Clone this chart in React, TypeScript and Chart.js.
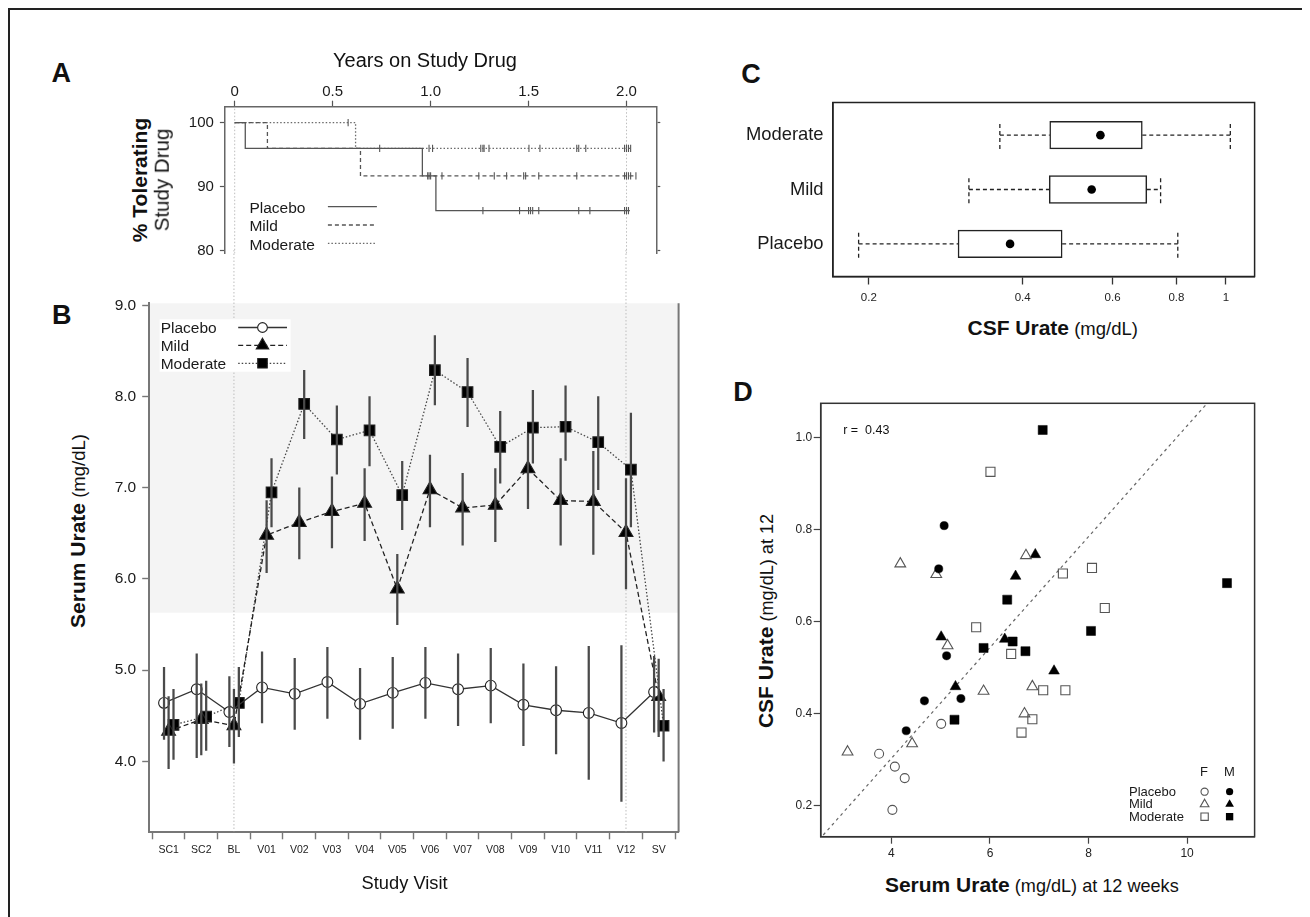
import React, { useEffect, useRef } from 'react';
import { Chart, registerables } from 'chart.js';

Chart.register(...registerables);

const FONT = '"Liberation Sans", Arial, Helvetica, sans-serif';
Chart.defaults.font.family = FONT;
Chart.defaults.color = '#1a1a1a';

// ================= Panel A : tolerability (Kaplan-Meier) =================
const aXTickValues = [0, 0.5, 1, 1.5, 2];
const aXTickLabels = ['0', '0.5', '1.0', '1.5', '2.0'];
const aYTickValues = [80, 90, 100];
const aYTickLabels = ['80', '90', '100'];
const kmPlacebo = [[0, 100], [0.054, 96], [0.958, 91.7], [1.027, 86.3], [2.017, 86.3]];
const kmMild = [[0, 100], [0.167, 96], [0.642, 91.7], [2.048, 91.7]];
const kmModerate = [[0, 100], [0.617, 96], [2.023, 96]];
const censorPlacebo = [[0.74, 96], [1.267, 86.3], [1.454, 86.3], [1.5, 86.3], [1.51, 86.3], [1.521, 86.3], [1.552, 86.3], [1.756, 86.3], [1.813, 86.3], [1.99, 86.3], [2.0, 86.3], [2.01, 86.3]];
const censorMild = [[0.985, 91.7], [0.992, 91.7], [1.0, 91.7], [1.058, 91.7], [1.246, 91.7], [1.325, 91.7], [1.388, 91.7], [1.475, 91.7], [1.485, 91.7], [1.552, 91.7], [1.746, 91.7], [1.99, 91.7], [2.0, 91.7], [2.01, 91.7], [2.021, 91.7], [2.048, 91.7]];
const censorModerate = [[0.579, 100], [0.992, 96], [1.01, 96], [1.256, 96], [1.267, 96], [1.273, 96], [1.298, 96], [1.502, 96], [1.558, 96], [1.746, 96], [1.756, 96], [1.792, 96], [1.99, 96], [2.0, 96], [2.01, 96], [2.021, 96]];
const aXRange = [-0.05, 2.152];
const aYRange = [79.64, 102.49];
const alignedYears = [0, 2];

// ================= Panel B : serum urate by visit =================
const visits = ['SC1', 'SC2', 'BL', 'V01', 'V02', 'V03', 'V04', 'V05', 'V06', 'V07', 'V08', 'V09', 'V10', 'V11', 'V12', 'SV'];
const bYTickValues = [4, 5, 6, 7, 8, 9];
const bYTickLabels = ['4.0', '5.0', '6.0', '7.0', '8.0', '9.0'];
const placeboMean = [4.64, 4.79, 4.54, 4.81, 4.74, 4.87, 4.63, 4.75, 4.86, 4.79, 4.83, 4.62, 4.56, 4.53, 4.42, 4.76];
const placeboLow = [4.24, 4.04, 4.16, 4.42, 4.35, 4.47, 4.24, 4.36, 4.47, 4.39, 4.42, 4.17, 4.08, 3.80, 3.56, 4.32];
const placeboHigh = [5.03, 5.18, 4.93, 5.20, 5.13, 5.25, 5.02, 5.14, 5.25, 5.18, 5.24, 5.07, 5.04, 5.26, 5.27, 5.15];
const mildMean = [4.33, 4.46, 4.39, 6.48, 6.62, 6.74, 6.83, 5.89, 6.98, 6.78, 6.81, 7.21, 6.86, 6.85, 6.51, 4.71];
const mildLow = [3.92, 4.07, 3.98, 6.07, 6.22, 6.34, 6.42, 5.50, 6.57, 6.37, 6.41, 6.77, 6.37, 6.27, 5.89, 4.27];
const mildHigh = [4.71, 4.85, 4.79, 6.86, 7.00, 7.12, 7.21, 6.27, 7.36, 7.16, 7.21, 7.60, 7.32, 7.40, 7.10, 5.12];
const moderateMean = [4.40, 4.49, 4.64, 6.95, 7.92, 7.53, 7.63, 6.92, 8.29, 8.05, 7.45, 7.66, 7.67, 7.50, 7.20, 4.39];
const moderateLow = [4.02, 4.12, 4.27, 6.57, 7.54, 7.15, 7.24, 6.54, 7.91, 7.67, 7.05, 7.27, 7.30, 6.98, 6.57, 4.00];
const moderateHigh = [4.79, 4.88, 5.03, 7.32, 8.29, 7.90, 8.00, 7.29, 8.67, 8.42, 7.84, 8.07, 8.12, 8.00, 7.82, 4.79];
const bXRange = [-0.603, 15.61];
const bYRange = [3.221, 9.024];
const shadedUrate = [5.63, 9.024];
const alignedVisits = ['BL', 'V12'];

// ================= Panel C : CSF urate box plots =================
const csfGroups = ['Placebo', 'Mild', 'Moderate'];
const csfRows = [1, 2, 3];
const csfMin = [0.191, 0.314, 0.361];
const csfQ1 = [0.299, 0.451, 0.452];
const csfMedian = [0.378, 0.546, 0.568];
const csfQ3 = [0.478, 0.700, 0.686];
const csfMax = [0.805, 0.745, 1.020];
const cXTickValues = [0.2, 0.4, 0.6, 0.8, 1];
const cXTickLabels = ['0.2', '0.4', '0.6', '0.8', '1'];
const cXRange = [0.1701, 1.138];
const cYRange = [0.4, 3.6];

// ================= Panel D : CSF vs serum urate =================
const dPlaceboF = [[5.01, 0.378], [3.75, 0.313], [4.07, 0.285], [4.27, 0.260], [4.02, 0.191]];
const dPlaceboM = [[5.07, 0.809], [4.96, 0.715], [5.12, 0.526], [4.67, 0.428], [5.41, 0.433], [4.30, 0.363]];
const dMildF = [[4.18, 0.726], [4.91, 0.703], [6.73, 0.744], [5.14, 0.548], [5.87, 0.449], [6.86, 0.459], [6.70, 0.400], [4.42, 0.335], [3.11, 0.317]];
const dMildM = [[6.92, 0.746], [6.52, 0.699], [5.01, 0.567], [6.30, 0.562], [7.30, 0.493], [5.30, 0.459]];
const dModerateF = [[6.01, 0.926], [7.48, 0.705], [8.07, 0.717], [8.33, 0.630], [5.72, 0.588], [6.43, 0.530], [7.08, 0.451], [7.53, 0.451], [6.86, 0.388], [6.64, 0.359]];
const dModerateM = [[7.07, 1.017], [10.81, 0.684], [6.35, 0.648], [8.05, 0.580], [5.87, 0.543], [6.46, 0.557], [6.72, 0.536], [5.28, 0.387]];
const fitIntercept = -0.179;
const fitSlope = 0.1205;
const dXTickValues = [4, 6, 8, 10];
const dXTickLabels = ['4', '6', '8', '10'];
const dYTickValues = [0.2, 0.4, 0.6, 0.8, 1.0];
const dYTickLabels = ['0.2', '0.4', '0.6', '0.8', '1.0'];
const dXRange = [2.565, 11.37];
const dYRange = [0.1326, 1.075];

// ================= helpers =================
const fixSize = (size: number) => (scale: any) => {
  if (scale.isHorizontal()) scale.height = size; else scale.width = size;
  scale.paddingLeft = 0; scale.paddingRight = 0; scale.paddingTop = 0; scale.paddingBottom = 0;
};
const setTicks = (values: number[]) => (scale: any) => { scale.ticks = values.map((value) => ({ value })); };
const labelFrom = (values: number[], labels: string[]) => (v: any) => {
  const i = values.findIndex((x) => Math.abs(x - Number(v)) < 1e-9);
  return i >= 0 ? labels[i] : '';
};
const pts = (arr: number[][]) => arr.map(([x, y]) => ({ x, y }));

function drawMarker(ctx: CanvasRenderingContext2D, style: string, x: number, y: number, r: number, fill: string | null, stroke: string | null, lw: number) {
  ctx.beginPath();
  if (style === 'circle') ctx.arc(x, y, r, 0, Math.PI * 2);
  else if (style === 'triangle') {
    ctx.moveTo(x, y - r);
    ctx.lineTo(x + r * Math.sin((2 * Math.PI) / 3), y - r * Math.cos((2 * Math.PI) / 3));
    ctx.lineTo(x + r * Math.sin((4 * Math.PI) / 3), y - r * Math.cos((4 * Math.PI) / 3));
    ctx.closePath();
  } else {
    const s = r * Math.SQRT1_2;
    ctx.rect(x - s, y - s, 2 * s, 2 * s);
  }
  if (fill) { ctx.fillStyle = fill; ctx.fill(); }
  if (stroke) { ctx.lineWidth = lw; ctx.strokeStyle = stroke; ctx.stroke(); }
}

const framePlugin = (color: string, width: number) => ({
  id: 'frame',
  afterDatasetsDraw(chart: any) {
    const { ctx, chartArea: a } = chart;
    ctx.save();
    ctx.strokeStyle = color; ctx.lineWidth = width; ctx.setLineDash([]);
    ctx.strokeRect(a.left, a.top, a.right - a.left, a.bottom - a.top);
    ctx.restore();
  },
});

const baseOptions = {
  responsive: false,
  animation: false,
  events: [],
  plugins: { legend: { display: false }, tooltip: { enabled: false } },
};

// ================= chart configs =================
function configA() {
  const groups = [
    { label: 'Placebo', km: kmPlacebo, cens: censorPlacebo, dash: [], color: '#555' },
    { label: 'Mild', km: kmMild, cens: censorMild, dash: [4, 3], color: '#555' },
    { label: 'Moderate', km: kmModerate, cens: censorModerate, dash: [1.5, 2], color: '#6a6a6a' },
  ];
  const datasets: any[] = [];
  groups.forEach((g) => {
    datasets.push({ label: g.label, data: pts(g.km), stepped: 'before', borderColor: g.color, borderWidth: 1.3, borderDash: g.dash, pointRadius: 0, fill: false });
  });
  groups.forEach((g) => {
    datasets.push({ label: g.label + ' censored', data: pts(g.cens), showLine: false, pointStyle: 'line', rotation: 90, pointRadius: 3.6, pointBorderColor: '#555', pointBorderWidth: 1.1 });
  });
  const legendA = {
    id: 'legendA',
    afterDraw(chart: any) {
      const { ctx, chartArea: a } = chart;
      ctx.save();
      ctx.font = `15.5px ${FONT}`;
      ctx.textBaseline = 'middle';
      groups.forEach((g, i) => {
        const y = a.top + 100 + i * 18.3;
        ctx.fillStyle = '#1a1a1a';
        ctx.fillText(g.label, a.left + 24.5, y + 2);
        ctx.beginPath();
        ctx.setLineDash(g.dash);
        ctx.strokeStyle = g.color; ctx.lineWidth = 1.3;
        ctx.moveTo(a.left + 103, y); ctx.lineTo(a.left + 152, y);
        ctx.stroke();
      });
      ctx.restore();
    },
  };
  const refA = {
    id: 'refA',
    beforeDatasetsDraw(chart: any) {
      const { ctx, chartArea: a, scales } = chart;
      ctx.save();
      ctx.strokeStyle = '#bdbdbd'; ctx.lineWidth = 1; ctx.setLineDash([1.5, 2]);
      alignedYears.forEach((v) => {
        const x = scales.x.getPixelForValue(v);
        ctx.beginPath(); ctx.moveTo(x, a.top + 2); ctx.lineTo(x, a.bottom); ctx.stroke();
      });
      ctx.restore();
    },
  };
  const yCommon = { type: 'linear', min: aYRange[0], max: aYRange[1], afterBuildTicks: setTicks(aYTickValues) };
  return {
    type: 'line',
    data: { datasets },
    options: {
      ...baseOptions,
      layout: { padding: { left: 0, top: 0, right: 0, bottom: 11.7 } },
      scales: {
        x: {
          type: 'linear', position: 'top', min: aXRange[0], max: aXRange[1],
          afterBuildTicks: setTicks(aXTickValues), afterFit: fixSize(36.7),
          ticks: { callback: labelFrom(aXTickValues, aXTickLabels), font: { size: 15 }, padding: 0, maxRotation: 0, autoSkip: false },
          grid: { drawOnChartArea: false, tickLength: 6, tickColor: '#555', tickWidth: 1.2 },
          border: { color: '#666', width: 1.5 },
        },
        y: {
          ...yCommon, position: 'left', afterFit: fixSize(64.9),
          ticks: { callback: labelFrom(aYTickValues, aYTickLabels), font: { size: 15 }, padding: 6 },
          grid: { drawOnChartArea: false, tickLength: 5, tickColor: '#555', tickWidth: 1.2 },
          border: { color: '#666', width: 1.5 },
        },
        y2: {
          ...yCommon, position: 'right', afterFit: fixSize(43.7),
          ticks: { callback: () => '', padding: 0 },
          grid: { drawOnChartArea: false, tickLength: 4, tickColor: '#555', tickWidth: 1.2 },
          border: { color: '#666', width: 1.5 },
        },
      },
    },
    plugins: [refA, legendA],
  };
}

function configB() {
  const series = [
    { label: 'Placebo', mean: placeboMean, lo: placeboLow, hi: placeboHigh, dx: -0.14, style: 'circle', r: 5.4, fill: '#ffffff', dash: [], color: '#333' },
    { label: 'Mild', mean: mildMean, lo: mildLow, hi: mildHigh, dx: 0, style: 'triangle', r: 8, fill: '#000000', dash: [5, 3], color: '#222' },
    { label: 'Moderate', mean: moderateMean, lo: moderateLow, hi: moderateHigh, dx: 0.15, style: 'rect', r: 7.5, fill: '#000000', dash: [1.5, 2], color: '#444' },
  ];
  const datasets: any[] = [];
  series.forEach((s) => {
    datasets.push({
      type: 'line', label: s.label,
      data: s.mean.map((v, i) => ({ x: i + s.dx, y: v })),
      borderColor: s.color, borderWidth: 1.3, borderDash: s.dash,
      pointStyle: s.style, pointRadius: s.r, pointBackgroundColor: s.fill,
      pointBorderColor: '#222', pointBorderWidth: 1.1, fill: false, order: 2,
    });
  });
  series.forEach((s) => {
    datasets.push({
      type: 'bar', label: s.label + ' interval',
      data: s.lo.map((lo, i) => ({ x: i + s.dx, y: [lo, s.hi[i]] })),
      backgroundColor: '#4a4a4a', borderWidth: 0, barThickness: 1.6, grouped: false, order: 1,
    });
  });
  const band = {
    id: 'band',
    beforeDraw(chart: any) {
      const { ctx, chartArea: a, scales } = chart;
      const top = scales.y.getPixelForValue(shadedUrate[1]);
      const bot = scales.y.getPixelForValue(shadedUrate[0]);
      ctx.save(); ctx.fillStyle = '#f4f4f4';
      ctx.fillRect(a.left, top, a.right - a.left, bot - top);
      ctx.restore();
    },
  };
  const refB = {
    id: 'refB',
    beforeDatasetsDraw(chart: any) {
      const { ctx, chartArea: a, scales } = chart;
      ctx.save();
      ctx.strokeStyle = '#bdbdbd'; ctx.lineWidth = 1; ctx.setLineDash([1.5, 2]);
      alignedVisits.forEach((v) => {
        const x = scales.x.getPixelForValue(visits.indexOf(v));
        ctx.beginPath(); ctx.moveTo(x, 0); ctx.lineTo(x, a.bottom - 1); ctx.stroke();
      });
      ctx.setLineDash([]);
      ctx.strokeStyle = '#777'; ctx.lineWidth = 2;
      ctx.beginPath(); ctx.moveTo(a.right, a.top); ctx.lineTo(a.right, a.bottom); ctx.stroke();
      ctx.restore();
    },
  };
  const legendB = {
    id: 'legendB',
    afterDraw(chart: any) {
      const { ctx, chartArea: a } = chart;
      ctx.save();
      ctx.fillStyle = '#ffffff';
      ctx.fillRect(a.left + 10.7, a.top + 16, 131, 52.4);
      ctx.font = `15.5px ${FONT}`;
      ctx.textBaseline = 'middle';
      series.forEach((s, i) => {
        const y = a.top + 24.2 + i * 17.9;
        ctx.fillStyle = '#1a1a1a';
        ctx.fillText(s.label, a.left + 11.8, y + 1.5);
        ctx.beginPath(); ctx.setLineDash(s.dash);
        ctx.strokeStyle = s.color; ctx.lineWidth = 1.3;
        ctx.moveTo(a.left + 89.3, y); ctx.lineTo(a.left + 138.1, y); ctx.stroke();
        ctx.setLineDash([]);
        drawMarker(ctx, s.style, a.left + 113.6, y, s.r * 0.9, s.fill, '#222', 1.1);
      });
      ctx.restore();
    },
  };
  const visitIdx = visits.map((_, i) => i);
  return {
    type: 'line',
    data: { datasets },
    options: {
      ...baseOptions,
      layout: { padding: { left: 0, top: 53.3, right: 11.4, bottom: 0 } },
      scales: {
        x: {
          type: 'linear', min: bXRange[0], max: bXRange[1], offset: false,
          afterBuildTicks: setTicks(visitIdx), afterFit: fixSize(47.7),
          ticks: { callback: labelFrom(visitIdx, visits), font: { size: 10.5 }, padding: 4.4, maxRotation: 0, autoSkip: false, color: '#222' },
          grid: { drawOnChartArea: false, tickLength: 7, tickColor: '#777', tickWidth: 1.4 },
          border: { color: '#777', width: 2 },
        },
        y: {
          type: 'linear', min: bYRange[0], max: bYRange[1],
          afterBuildTicks: setTicks(bYTickValues), afterFit: fixSize(58.9),
          ticks: { callback: labelFrom(bYTickValues, bYTickLabels), font: { size: 15.5 }, padding: 6 },
          grid: { drawOnChartArea: false, tickLength: 6.7, tickColor: '#777', tickWidth: 1.4 },
          border: { color: '#777', width: 2 },
        },
      },
    },
    plugins: [band, refB, legendB],
  };
}

function configC() {
  const CAP = 0.254;
  const datasets: any[] = [];
  datasets.push({
    type: 'bar', indexAxis: 'y', label: 'IQR',
    data: csfRows.map((r, i) => ({ y: r, x: [csfQ1[i], csfQ3[i]] })),
    backgroundColor: '#ffffff', borderColor: '#222', borderWidth: 1.5, borderSkipped: false,
    barThickness: 27.6, grouped: false, order: 1,
  });
  const whisk = { type: 'line', borderColor: '#222', borderWidth: 1.3, borderDash: [4, 3], pointRadius: 0, fill: false, order: 2 };
  csfRows.forEach((r, i) => {
    datasets.push({ ...whisk, label: 'low whisker', data: [{ x: csfMin[i], y: r }, { x: csfQ1[i], y: r }] });
    datasets.push({ ...whisk, label: 'high whisker', data: [{ x: csfQ3[i], y: r }, { x: csfMax[i], y: r }] });
    datasets.push({ ...whisk, label: 'low cap', data: [{ x: csfMin[i], y: r - CAP }, { x: csfMin[i], y: r + CAP }] });
    datasets.push({ ...whisk, label: 'high cap', data: [{ x: csfMax[i], y: r - CAP }, { x: csfMax[i], y: r + CAP }] });
  });
  datasets.push({
    type: 'line', label: 'median', showLine: false,
    data: csfRows.map((r, i) => ({ x: csfMedian[i], y: r })),
    pointRadius: 4.3, pointBackgroundColor: '#000', pointBorderWidth: 0, order: 0,
  });
  return {
    type: 'line',
    data: { datasets },
    options: {
      ...baseOptions,
      layout: { padding: { left: 0, top: 12.5, right: 25.4, bottom: 0 } },
      scales: {
        x: {
          type: 'logarithmic', min: cXRange[0], max: cXRange[1], offset: false,
          afterBuildTicks: setTicks(cXTickValues), afterFit: fixSize(33.5),
          ticks: { callback: labelFrom(cXTickValues, cXTickLabels), font: { size: 11.5 }, padding: 6, maxRotation: 0, autoSkip: false, color: '#222' },
          grid: { drawOnChartArea: false, tickLength: 8, tickColor: '#333', tickWidth: 1.3 },
          border: { color: '#222', width: 1.5 },
        },
        y: {
          type: 'linear', min: cYRange[0], max: cYRange[1], offset: false,
          afterBuildTicks: setTicks(csfRows), afterFit: fixSize(142.9),
          ticks: { callback: labelFrom(csfRows, csfGroups), font: { size: 18.4 }, padding: 9.3, color: '#1a1a1a' },
          grid: { display: false, drawTicks: false },
          border: { color: '#222', width: 1.5 },
        },
      },
    },
    plugins: [framePlugin('#222', 1.5)],
  };
}

function configD() {
  const groups = [
    { label: 'Placebo F', data: dPlaceboF, style: 'circle', r: 4.5, filled: false },
    { label: 'Placebo M', data: dPlaceboM, style: 'circle', r: 4.1, filled: true },
    { label: 'Mild F', data: dMildF, style: 'triangle', r: 6.2, filled: false },
    { label: 'Mild M', data: dMildM, style: 'triangle', r: 6.2, filled: true },
    { label: 'Moderate F', data: dModerateF, style: 'rect', r: 6.4, filled: false },
    { label: 'Moderate M', data: dModerateM, style: 'rect', r: 6.4, filled: true },
  ];
  const datasets: any[] = [];
  datasets.push({
    type: 'line', label: 'fit',
    data: [dXRange[0] - 1, dXRange[1] + 1].map((x) => ({ x, y: fitIntercept + fitSlope * x })),
    borderColor: '#666', borderWidth: 1.2, borderDash: [3, 3.5], pointRadius: 0, fill: false, order: 5,
  });
  groups.forEach((g) => {
    datasets.push({
      type: 'line', label: g.label, showLine: false, data: pts(g.data),
      pointStyle: g.style, pointRadius: g.r,
      pointBackgroundColor: g.filled ? '#000' : 'rgba(0,0,0,0)',
      pointBorderColor: g.filled ? '#000' : '#555', pointBorderWidth: g.filled ? 0.5 : 1.1, order: 1,
    });
  });
  const origin = { x: 780, y: 390 };
  const legendD = {
    id: 'legendD',
    afterDraw(chart: any) {
      const { ctx } = chart;
      const rows = [
        { label: 'Placebo', style: 'circle', r: 3.6 },
        { label: 'Mild', style: 'triangle', r: 5 },
        { label: 'Moderate', style: 'rect', r: 5.2 },
      ];
      const rowY = [791.7, 804.2, 816.7];
      ctx.save();
      ctx.font = `13px ${FONT}`;
      ctx.textBaseline = 'middle';
      ctx.fillStyle = '#1a1a1a';
      ctx.textAlign = 'center';
      ctx.fillText('F', 1204 - origin.x, 772.5 - origin.y);
      ctx.fillText('M', 1229.5 - origin.x, 772.5 - origin.y);
      rows.forEach((r, i) => {
        const y = rowY[i] - origin.y;
        ctx.textAlign = 'left';
        ctx.fillStyle = '#1a1a1a';
        ctx.fillText(r.label, 1129 - origin.x, y + 0.5);
        drawMarker(ctx, r.style, 1204.6 - origin.x, y, r.r, null, '#555', 1.1);
        drawMarker(ctx, r.style, 1229.6 - origin.x, y, r.r, '#000', null, 0);
      });
      ctx.restore();
    },
  };
  return {
    type: 'line',
    data: { datasets },
    options: {
      ...baseOptions,
      layout: { padding: { left: 0, top: 13.3, right: 25.4, bottom: 0 } },
      scales: {
        x: {
          type: 'linear', min: dXRange[0], max: dXRange[1],
          afterBuildTicks: setTicks(dXTickValues), afterFit: fixSize(33.3),
          ticks: { callback: labelFrom(dXTickValues, dXTickLabels), font: { size: 12 }, padding: 2.4, maxRotation: 0, autoSkip: false, color: '#222' },
          grid: { drawOnChartArea: false, tickLength: 7, tickColor: '#444', tickWidth: 1.2 },
          border: { color: '#333', width: 1.5 },
        },
        y: {
          type: 'linear', min: dYRange[0], max: dYRange[1],
          afterBuildTicks: setTicks(dYTickValues), afterFit: fixSize(40.7),
          ticks: { callback: labelFrom(dYTickValues, dYTickLabels), font: { size: 12 }, padding: 1.5, color: '#222' },
          grid: { drawOnChartArea: false, tickLength: 7, tickColor: '#444', tickWidth: 1.2 },
          border: { color: '#333', width: 1.5 },
        },
      },
    },
    plugins: [framePlugin('#333', 1.5), legendD],
  };
}

// ================= React components =================
function ChartPanel({ left, top, width, height, config }: { left: number; top: number; width: number; height: number; config: () => any }) {
  const ref = useRef<HTMLCanvasElement | null>(null);
  useEffect(() => {
    if (!ref.current) return;
    const chart = new Chart(ref.current, config());
    return () => chart.destroy();
  }, []);
  return (
    <canvas
      ref={ref}
      width={width}
      height={height}
      style={{ position: 'absolute', left: left - 8, top: top - 8, width, height, display: 'block' }}
    />
  );
}

function Txt({ x, y, size = 16, bold = false, rotate = false, left = false, children }: any) {
  return (
    <div
      style={{
        position: 'absolute',
        left: x - 8,
        top: y - 8,
        transform: `${left ? 'translate(0,-50%)' : 'translate(-50%,-50%)'}${rotate ? ' rotate(-90deg)' : ''}`,
        fontSize: size,
        fontWeight: bold ? 700 : 400,
        lineHeight: 1,
        whiteSpace: 'pre',
        fontFamily: FONT,
        color: '#111',
      }}
    >
      {children}
    </div>
  );
}

export default function App() {
  useEffect(() => {
    document.body.style.overflow = 'hidden';
  }, []);
  return (
    <div style={{ position: 'relative', width: 1298, height: 909, fontFamily: FONT }}>
      <div style={{ position: 'absolute', left: 0, top: 0, width: 1294, height: 920, border: '2px solid #222', borderBottom: 'none' }} />

      <ChartPanel left={160} top={70} width={540} height={195} config={configA} />
      <ChartPanel left={90} top={250} width={600} height={630} config={configB} />
      <ChartPanel left={690} top={90} width={590} height={220} config={configC} />
      <ChartPanel left={780} top={390} width={500} height={480} config={configD} />

      <Txt x={61.3} y={73.3} size={27} bold>A</Txt>
      <Txt x={425} y={60} size={20}>Years on Study Drug</Txt>
      <Txt x={139.2} y={180} size={21} bold rotate>% Tolerating</Txt>
      <Txt x={162.4} y={180} size={20.5} rotate>Study Drug</Txt>

      <Txt x={61.7} y={315} size={27} bold>B</Txt>
      <Txt x={78.3} y={531} rotate>
        <span style={{ fontSize: 21, fontWeight: 700 }}>Serum Urate</span>
        <span style={{ fontSize: 18.5 }}> (mg/dL)</span>
      </Txt>
      <Txt x={404.6} y={882.7} size={18.3}>Study Visit</Txt>

      <Txt x={751} y={74} size={27} bold>C</Txt>
      <Txt x={1052.7} y={328.3}>
        <span style={{ fontSize: 21, fontWeight: 700 }}>CSF Urate</span>
        <span style={{ fontSize: 18.5 }}> (mg/dL)</span>
      </Txt>

      <Txt x={743} y={392} size={27} bold>D</Txt>
      <Txt x={766.4} y={621} rotate>
        <span style={{ fontSize: 21, fontWeight: 700 }}>CSF Urate</span>
        <span style={{ fontSize: 18.1 }}> (mg/dL) at 12</span>
      </Txt>
      <Txt x={1031.8} y={885}>
        <span style={{ fontSize: 21, fontWeight: 700 }}>Serum Urate</span>
        <span style={{ fontSize: 18.1 }}> (mg/dL) at 12 weeks</span>
      </Txt>
      <Txt x={843.2} y={430} size={12.5} left>{'r =  0.43'}</Txt>
    </div>
  );
}
